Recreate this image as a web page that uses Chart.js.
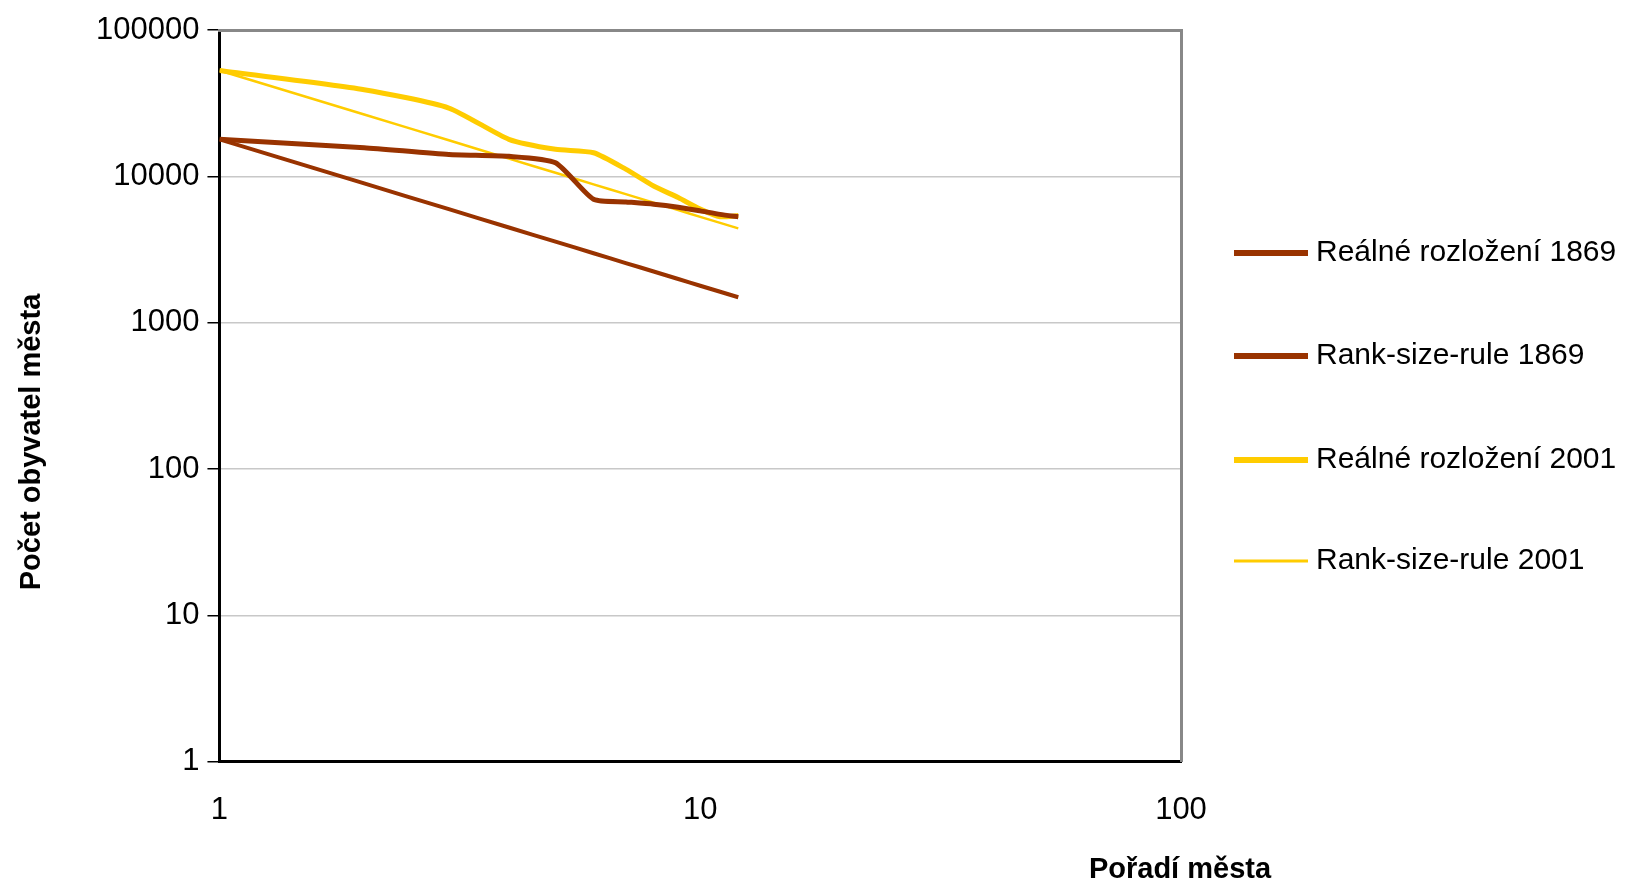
<!DOCTYPE html>
<html><head><meta charset="utf-8">
<script src="https://cdn.jsdelivr.net/npm/chart.js@4"></script>
<style>html,body{margin:0;background:#fff}#w{width:1644px;height:883px}</style>
</head><body><div id="w"><canvas id="c"></canvas></div>
<script>
const ranks = [1,2,3,4,5,6,7,8,9,10,11,12];
const real1869 = [17900,15700,14100,13700,12400,6970,6690,6450,6150,5810,5500,5300];
const rank1869 = [17900,8950,5967,4475,3580,2983,2557,2238,1989,1790,1627,1492];
const real2001 = [52900,39100,29300,17900,15300,14500,11200,8590,7160,5970,5300,5400];
const rank2001 = [52900,26450,17633,13225,10580,8817,7557,6613,5878,5290,4809,4408];
const yTicks = [1,10,100,1000,10000,100000];
const xTicks = [1,10,100];
const pts = a => a.map((v,i)=>({x:ranks[i],y:v}));
const brown='#993300', gold='#FFCC00';
const FONT='"Liberation Sans", Arial';
const titles = {
  id:'titles',
  afterDraw(ch){
    const c=ch.ctx;
    c.save(); c.fillStyle='#000'; c.font='bold 29px '+FONT;
    c.textAlign='center'; c.textBaseline='middle';
    c.fillText('Pořadí města', 1180, 870);
    c.save(); c.translate(32, 442); c.rotate(-Math.PI/2);
    c.fillText('Počet obyvatel města',0,0); c.restore();
    const ys=[253,356,460,561];
    c.font='30px '+FONT; c.textAlign='left';
    ch.data.datasets.forEach((d,i)=>{
      c.strokeStyle=d.borderColor; c.lineWidth=i==3?3:6;
      c.beginPath(); c.moveTo(1234,ys[i]); c.lineTo(1308,ys[i]); c.stroke();
      c.fillText(d.label,1316,ys[i]);
    });
    c.restore();
  }
};
new Chart(document.getElementById('c'),{
  type:'line',
  data:{datasets:[
    {label:'Reálné rozložení 1869',data:pts(real1869),borderColor:brown,borderWidth:5},
    {label:'Rank-size-rule 1869',data:pts(rank1869),borderColor:brown,borderWidth:4},
    {label:'Reálné rozložení 2001',data:pts(real2001),borderColor:gold,borderWidth:5},
    {label:'Rank-size-rule 2001',data:pts(rank2001),borderColor:gold,borderWidth:2.5}
  ]},
  options:{
    responsive:true,maintainAspectRatio:false,animation:false,
    elements:{point:{radius:0},line:{tension:0.2}},
    layout:{padding:{left:88,top:22,bottom:36,right:455}},
    plugins:{tooltip:{enabled:false},legend:{display:false}},
    scales:{
      x:{type:'logarithmic',min:1,max:100,
        afterBuildTicks:s=>{s.ticks=xTicks.map(v=>({value:v}));},
        grid:{display:false,drawOnChartArea:false,tickLength:12,tickColor:'#000'},
        border:{color:'#000',width:3},
        ticks:{color:'#000',padding:18,font:{family:FONT,size:31},callback:v=>String(v),maxRotation:0}},
      y:{type:'logarithmic',min:1,max:100000,
        afterBuildTicks:s=>{s.ticks=yTicks.map(v=>({value:v}));},
        grid:{color:'#c8c8c8',lineWidth:1.5,tickLength:12,tickColor:'#000'},
        border:{color:'#000',width:3},
        ticks:{color:'#000',padding:8,font:{family:FONT,size:31},callback:v=>String(v)}},
      x2:{type:'logarithmic',position:'top',min:1,max:100,grid:{display:false},border:{color:'#888',width:3},ticks:{display:false}},
      y2:{type:'logarithmic',position:'right',min:1,max:100000,grid:{display:false},border:{color:'#888',width:3},ticks:{display:false}}
    }
  },
  plugins:[titles]
});
</script></body></html>
